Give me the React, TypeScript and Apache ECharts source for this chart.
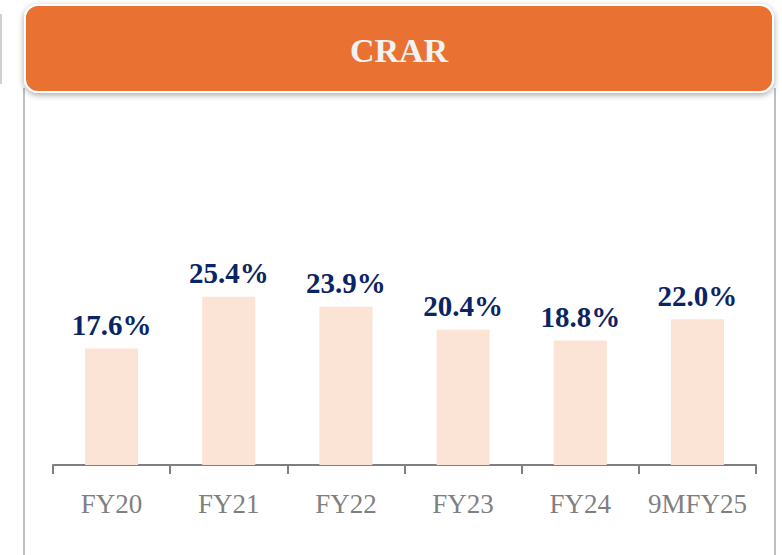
import React, { useEffect, useRef } from "react";
import * as echarts from "echarts";

const categories = ["FY20", "FY21", "FY22", "FY23", "FY24", "9MFY25"];
const crarValues = [17.6, 25.4, 23.9, 20.4, 18.8, 22.0];
const titleText = "CRAR";

export default function App() {
  const ref = useRef<HTMLDivElement>(null);
  useEffect(() => {
    if (!ref.current) return;
    const chart = echarts.init(ref.current, undefined, { renderer: "svg" });
    chart.setOption({
      animation: false,
      backgroundColor: "#ffffff",
      grid: { left: 53, right: 26, top: 200, bottom: 90 },
      xAxis: {
        type: "category",
        data: categories,
        boundaryGap: true,
        axisLine: { show: true, lineStyle: { color: "#7F7F7F", width: 2 } },
        axisTick: { show: true, interval: 0, length: 9, lineStyle: { color: "#7F7F7F", width: 2 } },
        axisLabel: {
          interval: 0,
          color: "#7F7F7F",
          fontFamily: "'Liberation Serif', Georgia, serif",
          fontSize: 27,
          margin: 25,
        },
      },
      yAxis: { type: "value", min: 0, max: 40, show: false, splitLine: { show: false } },
      series: [
        {
          type: "bar",
          data: crarValues,
          barWidth: 53,
          itemStyle: { color: "#FBE3D6" },
          label: {
            show: true,
            position: "top",
            distance: 9,
            color: "#0B2463",
            fontFamily: "'Liberation Serif', Georgia, serif",
            fontWeight: "bold",
            fontSize: 29,
            formatter: (p: any) => p.value.toFixed(1) + "%",
          },
        },
      ],
      graphic: [
        { type: "rect", shape: { x: 0, y: 14, width: 2, height: 70 }, style: { fill: "#D0D0D0" }, silent: true },
        { type: "line", shape: { x1: 24, y1: 88, x2: 24, y2: 555 }, style: { stroke: "#BFBFBF", lineWidth: 2 }, silent: true },
        { type: "line", shape: { x1: 775, y1: 88, x2: 775, y2: 555 }, style: { stroke: "#BFBFBF", lineWidth: 2 }, silent: true },
        {
          type: "rect",
          shape: { x: 25, y: 5, width: 748, height: 87, r: 13 },
          style: {
            fill: "#E97132",
            stroke: "#ffffff",
            lineWidth: 2,
            shadowBlur: 6,
            shadowOffsetY: 2,
            shadowColor: "rgba(0,0,0,0.35)",
          },
          silent: true,
        },
        {
          type: "text",
          x: 399,
          y: 50,
          style: {
            text: titleText,
            fill: "#F2F2F2",
            font: "bold 34px 'Liberation Serif', Georgia, serif",
            textAlign: "center",
            textVerticalAlign: "middle",
          },
          silent: true,
        },
      ],
    });
    return () => chart.dispose();
  }, []);
  return (
    <div
      ref={ref}
      style={{ position: "fixed", left: 0, top: 0, width: 782, height: 555 }}
    />
  );
}
